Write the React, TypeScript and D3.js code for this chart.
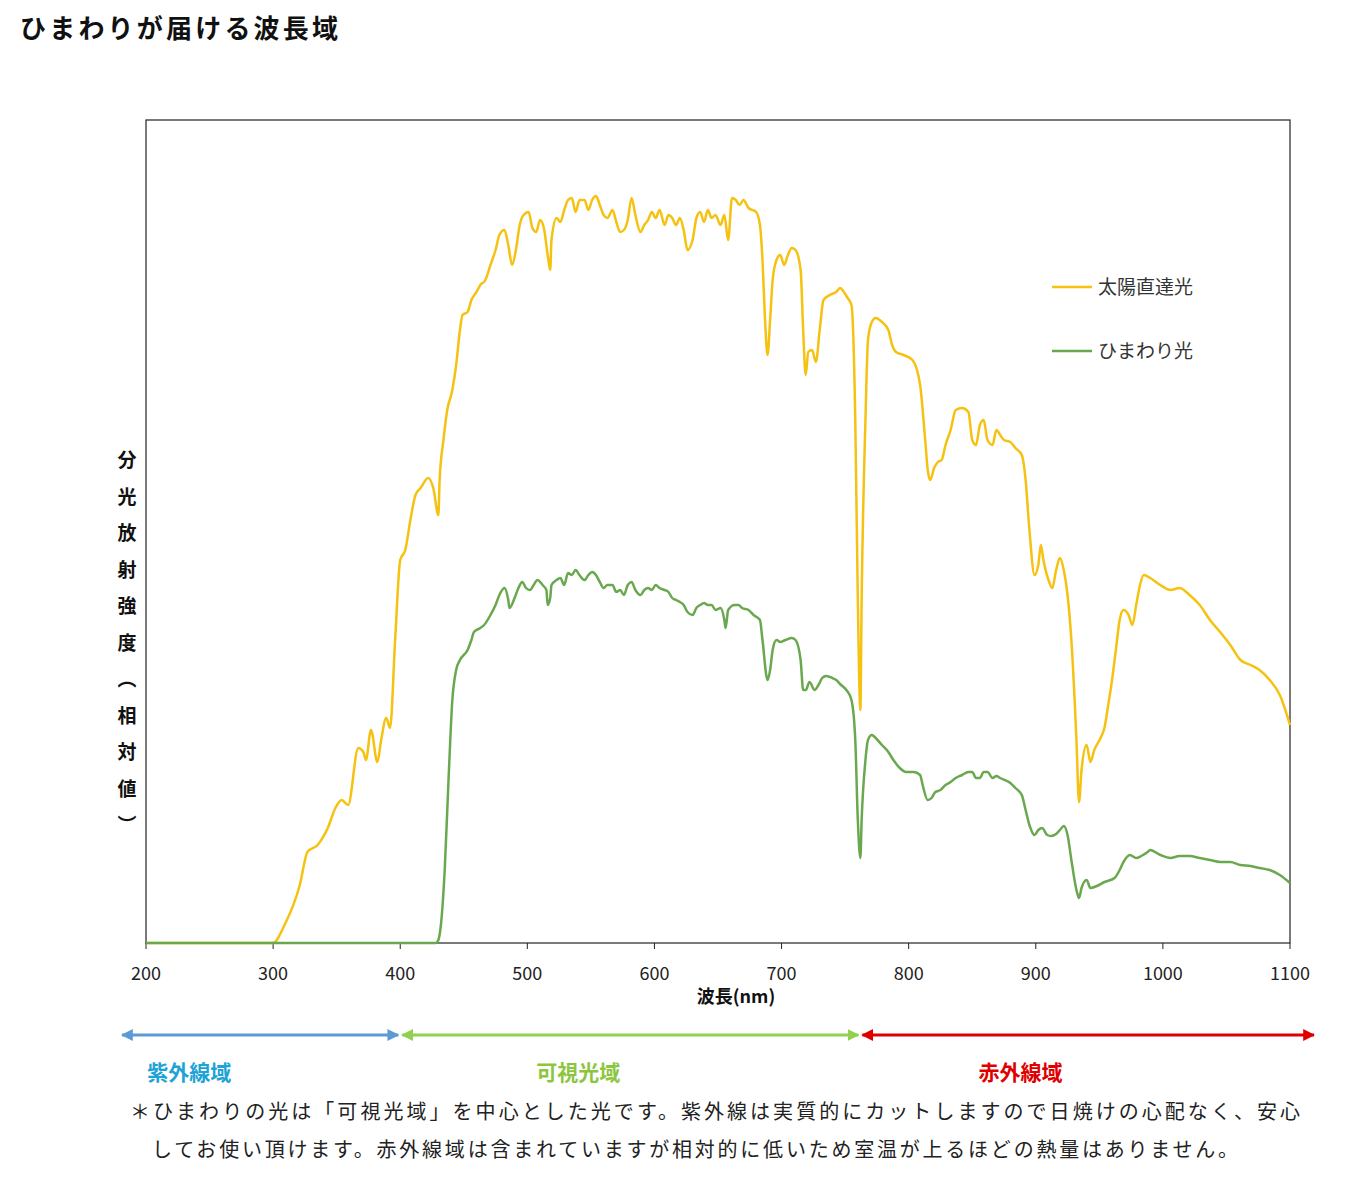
import React from 'react';
import * as d3 from 'd3';

// wavelength (nm), relative intensity (0..823)
const sunData: [number, number][] = [
  [200, 0], [300, 0], [309, 18], [321, 58], [327, 91], [335, 98], [343, 115], [349, 135], [354, 143], [359, 138],
  [367, 195], [371, 191], [373, 183], [377, 213], [382, 181], [385, 203], [389, 225], [392, 215], [396, 303],
  [400, 383], [404, 393], [408, 423], [412, 448], [416, 455], [422, 465], [426, 455], [430, 428], [431, 463],
  [434, 503], [437, 533], [441, 553], [444, 578], [447, 613], [449, 628], [453, 631], [456, 643], [460, 651],
  [463, 658], [467, 663], [471, 678], [475, 693], [478, 708], [482, 713], [485, 698], [488, 678], [491, 693],
  [494, 718], [497, 728], [501, 731], [504, 715], [507, 711], [510, 723], [513, 715], [516, 688], [518, 673],
  [519, 703], [523, 725], [526, 721], [529, 733], [532, 743], [535, 745], [538, 731], [541, 743], [545, 743],
  [548, 733], [551, 743], [554, 747], [557, 738], [560, 728], [563, 725], [567, 733], [570, 721], [573, 711],
  [576, 713], [579, 723], [582, 745], [585, 728], [589, 711], [592, 718], [595, 723], [598, 731], [601, 725],
  [604, 733], [608, 718], [611, 728], [614, 725], [617, 718], [620, 725], [623, 713], [626, 693], [630, 703],
  [633, 725], [636, 731], [639, 721], [642, 733], [645, 725], [648, 728], [652, 718], [655, 728], [658, 703],
  [661, 745], [664, 743], [667, 738], [670, 743], [674, 735], [677, 733], [680, 731], [683, 718], [685, 683],
  [687, 623], [689, 588], [691, 623], [693, 663], [696, 683], [699, 688], [702, 678], [705, 688], [708, 695],
  [711, 693], [715, 673], [717, 613], [719, 568], [721, 591], [724, 593], [727, 581], [730, 613], [733, 643],
  [738, 648], [743, 651], [746, 655], [749, 651], [752, 645], [755, 638], [758, 523], [760, 343], [762, 233],
  [763, 343], [766, 523], [768, 603], [771, 621], [774, 625], [779, 621], [784, 613], [787, 598], [790, 591],
  [796, 588], [803, 583], [809, 558], [813, 503], [815, 473], [817, 463], [820, 475], [823, 481], [826, 483],
  [829, 498], [833, 513], [837, 533], [842, 535], [847, 531], [850, 503], [853, 498], [856, 518], [859, 523],
  [862, 503], [866, 498], [869, 513], [872, 508], [875, 503], [880, 501], [884, 495], [889, 488], [892, 463],
  [895, 413], [899, 368], [902, 378], [904, 398], [906, 383], [910, 363], [913, 355], [916, 373], [919, 385],
  [922, 373], [925, 348], [928, 303], [932, 203], [934, 141], [936, 173], [940, 198], [943, 181], [946, 193],
  [951, 205], [954, 215], [957, 238], [960, 263], [963, 293], [966, 323], [969, 333], [973, 328], [976, 318],
  [979, 338], [982, 358], [985, 368], [990, 365], [998, 358], [1006, 353], [1013, 355], [1021, 348],
  [1029, 338], [1037, 323], [1045, 311], [1053, 298], [1061, 283], [1069, 278], [1076, 273], [1084, 263],
  [1092, 248], [1100, 218],
];

const himawariData: [number, number][] = [
  [200, 0], [428, 0], [430, 3], [432, 18], [435, 73], [438, 163], [441, 243], [444, 273], [447, 283], [453, 293],
  [456, 303], [458, 311], [463, 315], [466, 318], [471, 328], [475, 338], [478, 348], [482, 355], [485, 343],
  [486, 335], [490, 345], [493, 355], [496, 361], [499, 355], [502, 353], [505, 358], [508, 363], [512, 358],
  [515, 353], [516, 338], [518, 345], [519, 358], [523, 363], [526, 365], [529, 358], [532, 370], [535, 368],
  [538, 373], [541, 368], [545, 363], [548, 368], [551, 371], [554, 368], [557, 361], [560, 355], [563, 358],
  [567, 358], [570, 351], [573, 353], [576, 348], [579, 358], [582, 361], [585, 353], [589, 348], [592, 353],
  [595, 355], [598, 353], [601, 358], [604, 355], [608, 353], [611, 351], [614, 345], [617, 343], [620, 341],
  [623, 338], [626, 331], [630, 328], [633, 335], [636, 338], [639, 340], [642, 338], [645, 338], [648, 333],
  [652, 335], [655, 323], [656, 315], [658, 333], [663, 338], [666, 338], [669, 335], [674, 333], [678, 328],
  [683, 323], [685, 303], [689, 263], [691, 273], [693, 293], [696, 303], [699, 301], [703, 303], [708, 305],
  [711, 303], [715, 283], [717, 253], [719, 253], [722, 261], [726, 253], [729, 258], [732, 265], [735, 267],
  [740, 265], [743, 263], [746, 259], [751, 253], [755, 243], [758, 203], [760, 123], [762, 85], [763, 123],
  [766, 183], [768, 203], [771, 208], [774, 205], [779, 198], [784, 191], [788, 183], [793, 175], [798, 171],
  [804, 171], [809, 168], [811, 158], [815, 143], [818, 145], [821, 151], [825, 153], [829, 158], [833, 161],
  [837, 165], [842, 168], [847, 171], [850, 171], [853, 165], [856, 165], [859, 171], [862, 171], [866, 165],
  [869, 167], [872, 165], [880, 160], [884, 155], [889, 148], [892, 133], [895, 118], [899, 108], [902, 113],
  [905, 115], [909, 108], [912, 107], [916, 109], [919, 113], [922, 117], [925, 108], [928, 83], [932, 53],
  [934, 45], [936, 55], [940, 63], [943, 55], [948, 57], [954, 61], [962, 65], [966, 73], [969, 81], [974, 88],
  [979, 85], [983, 87], [988, 91], [990, 93], [998, 88], [1006, 85], [1013, 87], [1021, 87], [1029, 85],
  [1037, 83], [1045, 81], [1053, 81], [1061, 78], [1069, 77], [1076, 75], [1084, 73], [1092, 68], [1100, 60],
];

const xTicks = [200, 300, 400, 500, 600, 700, 800, 900, 1000, 1100];
const yLabelChars = ['分', '光', '放', '射', '強', '度', '︵', '相', '対', '値', '︶'];
const regions = [
  { name: '紫外線域', from: 200, to: 400, color: '#5b9bd5', text: '#1ea3d6', labelAt: 234 },
  { name: '可視光域', from: 400, to: 762, color: '#92d050', text: '#8cc63f', labelAt: 540 },
  { name: '赤外線域', from: 762, to: 1100, color: '#e00000', text: '#e00000', labelAt: 888 },
];
const series = [
  { name: '太陽直達光', data: sunData, color: '#f5c211' },
  { name: 'ひまわり光', data: himawariData, color: '#6aa84f' },
];
const note1 = '＊ひまわりの光は「可視光域」を中心とした光です。紫外線は実質的にカットしますので日焼けの心配なく、安心';
const note2 = 'してお使い頂けます。赤外線域は含まれていますが相対的に低いため室温が上るほどの熱量はありません。';

const W = 1369, H = 1178;
const left = 146, right = 1290, top = 120, bottom = 943;
const font = '"Noto Sans CJK JP", "Noto Sans", sans-serif';

export default function App() {
  const x = d3.scaleLinear().domain([200, 1100]).range([left, right]);
  const y = d3.scaleLinear().domain([0, 823]).range([bottom, top]);
  const line = d3.line<[number, number]>().x(d => x(d[0])).y(d => y(d[1])).curve(d3.curveMonotoneX);
  const arrowY = 1035;
  // arrows extend a bit past the axis on both ends
  const ax = (v: number, end: boolean) => {
    if (v === 200) return x(v) - 24;
    if (v === 1100) return x(v) + 24;
    return x(v) + (end ? -2 : 2);
  };

  return (
    <svg width={W} height={H} style={{ position: 'absolute', left: 0, top: 0, background: '#fff' }} fontFamily={font}>
      <defs>
        {regions.map((r, i) => (
          <marker key={i} id={`ar${i}`} viewBox="0 0 10 10" refX="9" refY="5" markerWidth="4" markerHeight="4" orient="auto-start-reverse">
            <path d="M0,0 L10,5 L0,10 z" fill={r.color} />
          </marker>
        ))}
      </defs>
      <text x={20} y={38} fontSize={26} fontWeight="bold" fill="#111" textLength={318} lengthAdjust="spacing">ひまわりが届ける波長域</text>

      <rect x={left} y={top} width={right - left} height={bottom - top} fill="none" stroke="#222" strokeWidth={1.2} />
      {xTicks.map(t => (
        <g key={t}>
          <line x1={x(t)} x2={x(t)} y1={bottom} y2={bottom + 6} stroke="#222" />
          <text x={x(t)} y={980} fontSize={18} textAnchor="middle" fill="#222">{t}</text>
        </g>
      ))}
      <text x={736} y={1003} fontSize={18} fontWeight="bold" textAnchor="middle" fill="#111">波長(nm)</text>
      {yLabelChars.map((c, i) => (
        <text key={i} x={127} y={467 + i * 36.5} fontSize={19} fontWeight="bold" textAnchor="middle" fill="#111">{c}</text>
      ))}

      {series.map(s => (
        <path key={s.name} d={line(s.data) || ''} fill="none" stroke={s.color} strokeWidth={2.5} />
      ))}
      {series.map((s, i) => (
        <g key={s.name}>
          <line x1={1052} x2={1092} y1={287 + i * 64} y2={287 + i * 64} stroke={s.color} strokeWidth={2.5} />
          <text x={1098} y={294 + i * 64} fontSize={19} fill="#333">{s.name}</text>
        </g>
      ))}

      {regions.map((r, i) => (
        <g key={r.name}>
          <line x1={ax(r.from, false)} x2={ax(r.to, true)} y1={arrowY} y2={arrowY} stroke={r.color} strokeWidth={3}
            markerStart={`url(#ar${i})`} markerEnd={`url(#ar${i})`} />
          <text x={x(r.labelAt)} y={1080} fontSize={21} fontWeight="bold"
            textAnchor="middle" fill={r.text}>{r.name}</text>
        </g>
      ))}
      <text x={130} y={1119} fontSize={20} fill="#222" textLength={1170} lengthAdjust="spacing">{note1}</text>
      <text x={152} y={1157} fontSize={20} fill="#222" textLength={1086} lengthAdjust="spacing">{note2}</text>
    </svg>
  );
}
